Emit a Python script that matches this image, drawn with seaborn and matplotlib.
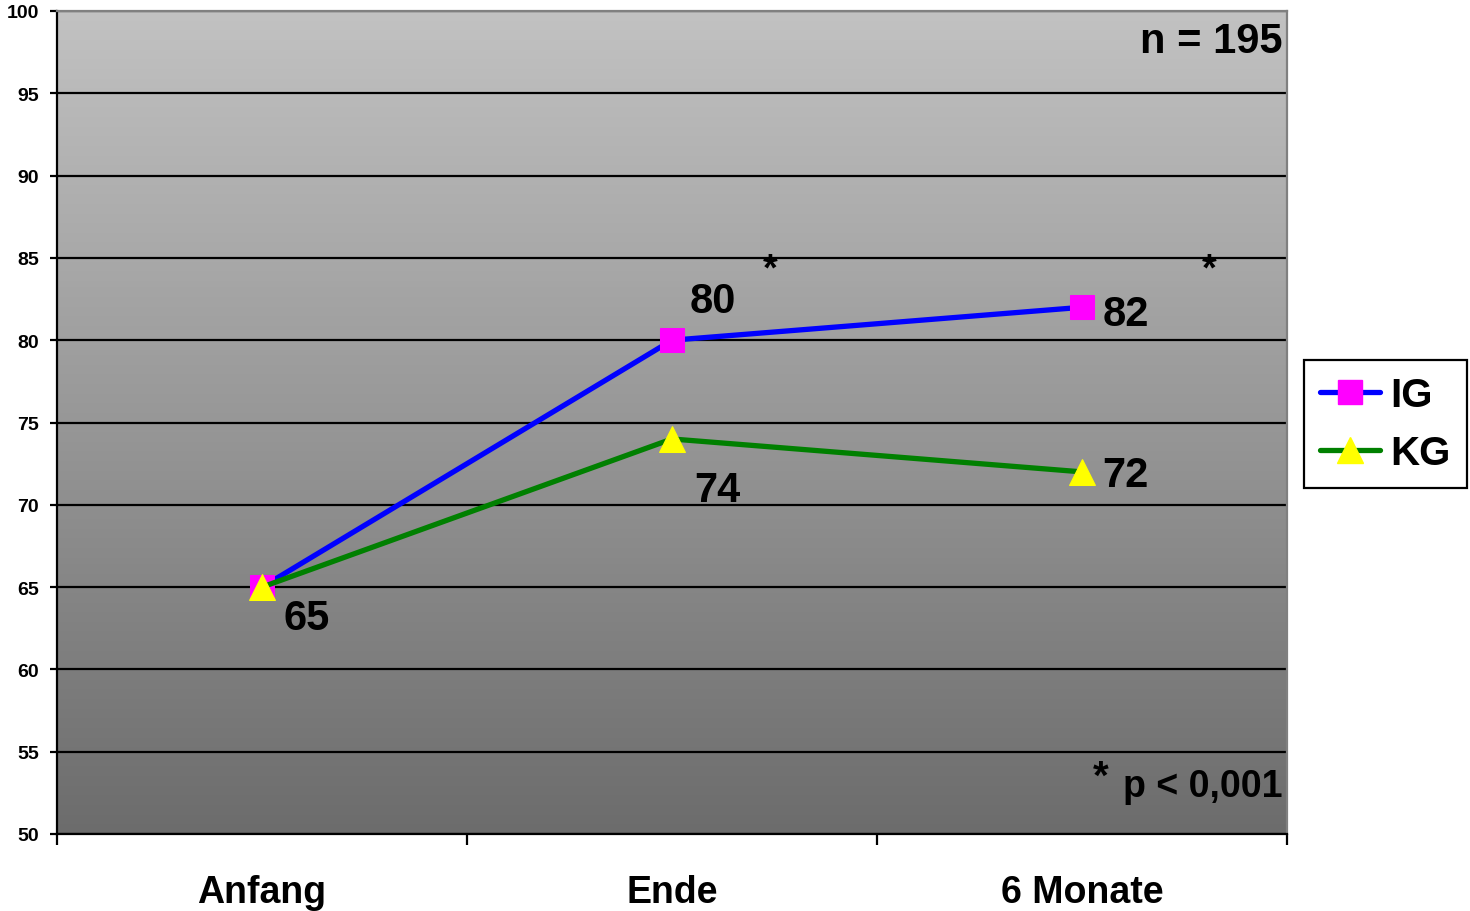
import numpy as np
import pandas as pd
import matplotlib
matplotlib.use("Agg")
import matplotlib.pyplot as plt
import seaborn as sns
from matplotlib.lines import Line2D
from matplotlib.colors import LinearSegmentedColormap

categories = ["Anfang", "Ende", "6 Monate"]
ig_values = [65, 80, 82]
kg_values = [65, 74, 72]
y_ticks = [50, 55, 60, 65, 70, 75, 80, 85, 90, 95, 100]

sns.set_theme(style="white")
plt.rcParams['font.family'] = ['Liberation Sans', 'DejaVu Sans']
plt.rcParams['font.weight'] = 'bold'
plt.rcParams['text.color'] = 'black'
plt.rcParams['xtick.color'] = 'black'
plt.rcParams['ytick.color'] = 'black'
plt.rcParams['xtick.labelcolor'] = 'black'
plt.rcParams['ytick.labelcolor'] = 'black'

fig = plt.figure(figsize=(14.7, 9.12), dpi=100)
ax = fig.add_axes([57/1470, 1-835/912, (1287-57)/1470, (835-12)/912])

# gradient background
grad = np.linspace(0, 1, 256).reshape(-1, 1)
cmap = LinearSegmentedColormap.from_list("g", ["#6c6c6c", "#c2c2c2"])
ax.imshow(grad, extent=[-0.5, 2.5, 50, 100], aspect='auto', origin='lower',
          cmap=cmap, zorder=0)

df_ig = pd.DataFrame({"x": np.arange(len(categories)), "y": ig_values})
df_kg = pd.DataFrame({"x": np.arange(len(categories)), "y": kg_values})

sns.lineplot(data=df_ig, x="x", y="y", ax=ax, color="#0000ff", linewidth=3.8,
             marker="s", markersize=17, markerfacecolor="#ff00ff",
             markeredgecolor="#ff00ff", zorder=4)
sns.lineplot(data=df_kg, x="x", y="y", ax=ax, color="#008000", linewidth=3.8,
             marker="^", markersize=19, markerfacecolor="#ffff00",
             markeredgecolor="#ffff00", zorder=5)

ax.set_xlim(-0.5, 2.5)
ax.set_ylim(50, 100)
ax.set_yticks(y_ticks)
ax.set_yticklabels([str(t) for t in y_ticks], fontsize=14, fontweight='bold', color='black')
ax.yaxis.grid(True, color='black', linewidth=1.6)
ax.xaxis.grid(False)
for l in ax.get_ygridlines():
    l.set_zorder(1)

ax.set_xticks(range(len(categories)))
ax.set_xticklabels(categories, fontsize=27, fontweight='bold', color='black')
ax.tick_params(axis='x', which='major', length=0, pad=29, bottom=True)
ax.set_xticks([-0.5, 0.5, 1.5, 2.5], minor=True)
ax.tick_params(axis='x', which='minor', length=8, width=1.6, color='black',
               direction='out', bottom=True)
ax.tick_params(axis='y', length=5, width=1.6, color='black', direction='out', pad=8, left=True)
ax.set_xlabel("")
ax.set_ylabel("")

for s in ['left', 'bottom']:
    ax.spines[s].set_color('black')
    ax.spines[s].set_linewidth(1.6)
for s in ['top', 'right']:
    ax.spines[s].set_color('#808080')
    ax.spines[s].set_linewidth(1.6)
    ax.spines[s].set_visible(True)

fs = 30
kw = dict(fontsize=fs, fontweight='bold', color='black', zorder=6)
ax.text(1.1, 82.4, "80", ha='center', va='center', **kw)
ax.text(2.05, 81.6, "82", ha='left', va='center', **kw)
ax.text(1.11, 70.9, "74", ha='center', va='center', **kw)
ax.text(2.05, 71.8, "72", ha='left', va='center', **kw)
ax.text(0.11, 63.1, "65", ha='center', va='center', **kw)
ax.text(1.24, 84.3, "*", fontsize=27, fontweight='bold', color='black', ha='center', va='center', zorder=6)
ax.text(2.31, 84.3, "*", fontsize=27, fontweight='bold', color='black', ha='center', va='center', zorder=6)
ax.text(2.49, 98.2, "n = 195", ha='right', va='center', **kw)
ax.text(2.49, 52.9, "p < 0,001", fontsize=27, fontweight='bold', color='black',
        ha='right', va='center', zorder=6)
ax.text(2.045, 53.5, "*", fontsize=29, fontweight='bold', color='black',
        ha='center', va='center', zorder=6)

handles = [
    Line2D([], [], color="#0000ff", linewidth=3.8, marker="s", markersize=17,
           markerfacecolor="#ff00ff", markeredgecolor="#ff00ff"),
    Line2D([], [], color="#008000", linewidth=3.8, marker="^", markersize=19,
           markerfacecolor="#ffff00", markeredgecolor="#ffff00"),
]
leg = fig.legend(handles, ["IG", "KG"], loc='upper right',
                 bbox_to_anchor=(1467/1470, 1-361/912), frameon=True,
                 fancybox=False, edgecolor='black', framealpha=1,
                 prop={'size': 29, 'weight': 'bold', 'family': 'Liberation Sans'},
                 handlelength=1.5, handletextpad=0.25, borderpad=0.4,
                 labelspacing=0.5, borderaxespad=0)
for t in leg.get_texts():
    t.set_color('black')
leg.get_frame().set_linewidth(1.6)

fig.savefig("out.png", dpi=100)
